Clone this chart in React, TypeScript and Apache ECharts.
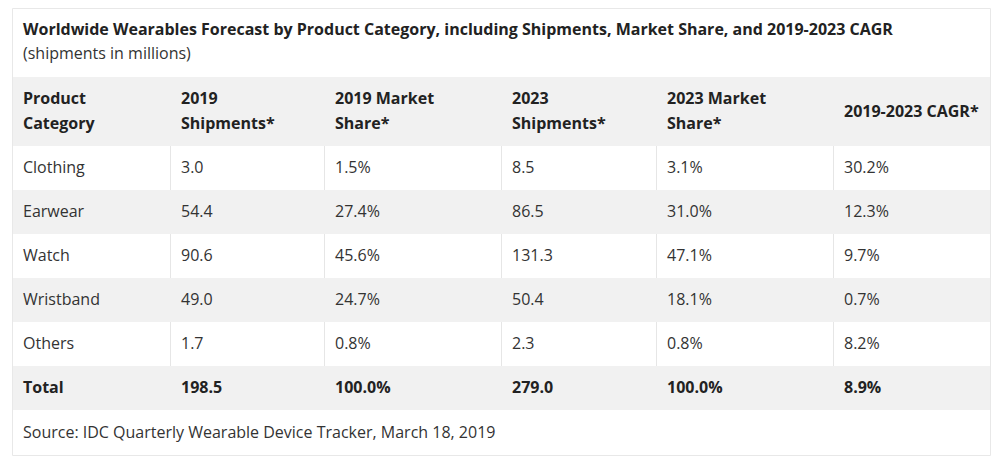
import React, { useEffect, useRef } from "react";
import * as echarts from "echarts";

const titleText = "Worldwide Wearables Forecast by Product Category, including Shipments, Market Share, and 2019-2023 CAGR";
const subtitleText = "(shipments in millions)";
const headers = [
  ["Product", "Category"],
  ["2019", "Shipments*"],
  ["2019 Market", "Share*"],
  ["2023", "Shipments*"],
  ["2023 Market", "Share*"],
  ["2019-2023 CAGR*"],
];
const categories = ["Clothing", "Earwear", "Watch", "Wristband", "Others"];
const shipments2019 = ["3.0", "54.4", "90.6", "49.0", "1.7"];
const share2019 = ["1.5%", "27.4%", "45.6%", "24.7%", "0.8%"];
const shipments2023 = ["8.5", "86.5", "131.3", "50.4", "2.3"];
const share2023 = ["3.1%", "31.0%", "47.1%", "18.1%", "0.8%"];
const cagr = ["30.2%", "12.3%", "9.7%", "0.7%", "8.2%"];
const totalRow = ["Total", "198.5", "100.0%", "279.0", "100.0%", "8.9%"];
const sourceText = "Source: IDC Quarterly Wearable Device Tracker, March 18, 2019";

export default function App() {
  const ref = useRef<HTMLDivElement>(null);
  useEffect(() => {
    if (!ref.current) return;
    const chart = echarts.init(ref.current, null, { renderer: "svg" });
    const FONT = "'Open Sans', sans-serif";
    const TEXT = "#333333";
    const GRAY = "#f1f1f1";
    const LINE = "#e6e6e6";
    const SIZE = "16px";
    const left = 12, right = 990, top = 8, bottom = 455;
    const colX = [12, 170, 324, 501, 656, 833, 990];
    const headTop = 77, headBottom = 146, rowH = 44;
    const els: any[] = [];

    els.push({ type: "rect", shape: { x: left + 0.5, y: top + 0.5, width: right - left, height: bottom - top }, style: { fill: "#fff", stroke: "#e8e8e8", lineWidth: 1 } });
    els.push({ type: "text", x: 23, y: 28.5, style: { text: titleText, font: `bold ${SIZE} ${FONT}`, fill: "#222", verticalAlign: "middle" } });
    els.push({ type: "text", x: 23, y: 52.5, style: { text: subtitleText, font: `${SIZE} ${FONT}`, fill: TEXT, verticalAlign: "middle" } });

    // header
    els.push({ type: "rect", shape: { x: left + 1, y: headTop, width: right - left - 1, height: headBottom - headTop }, style: { fill: GRAY } });
    headers.forEach((h, c) => {
      const cy = (headTop + headBottom) / 2 - 1;
      h.forEach((line, i) => {
        const y = h.length === 1 ? cy : cy - 12.5 + i * 25;
        els.push({ type: "text", x: colX[c] + 11, y, style: { text: line, font: `bold ${SIZE} ${FONT}`, fill: "#222", verticalAlign: "middle" } });
      });
    });

    const rows = categories.map((cat, i) => [cat, shipments2019[i], share2019[i], shipments2023[i], share2023[i], cagr[i]]);
    const allRows = [...rows, totalRow];
    allRows.forEach((r, ri) => {
      const y0 = headBottom + ri * rowH;
      const gray = ri % 2 === 1;
      const bold = ri === allRows.length - 1;
      if (gray) {
        els.push({ type: "rect", shape: { x: left + 1, y: y0, width: right - left - 1, height: rowH }, style: { fill: GRAY } });
      } else {
        for (let c = 1; c < colX.length - 1; c++) {
          els.push({ type: "line", shape: { x1: colX[c] + 0.5, y1: y0, x2: colX[c] + 0.5, y2: y0 + rowH }, style: { stroke: LINE, lineWidth: 1 } });
        }
      }
      r.forEach((v, c) => {
        els.push({ type: "text", x: colX[c] + 11, y: y0 + rowH / 2 - 1, style: { text: v, font: `${bold ? "bold " : ""}${SIZE} ${FONT}`, fill: bold ? "#222" : TEXT, verticalAlign: "middle" } });
      });
    });

    els.push({ type: "text", x: 23, y: 431.5, style: { text: sourceText, font: `${SIZE} ${FONT}`, fill: TEXT, verticalAlign: "middle" } });

    chart.setOption({ animation: false, backgroundColor: "#fff", graphic: { elements: els } });
    return () => chart.dispose();
  }, []);
  return <div ref={ref} style={{ position: "fixed", left: 0, top: 0, width: 1005, height: 468 }} />;
}
